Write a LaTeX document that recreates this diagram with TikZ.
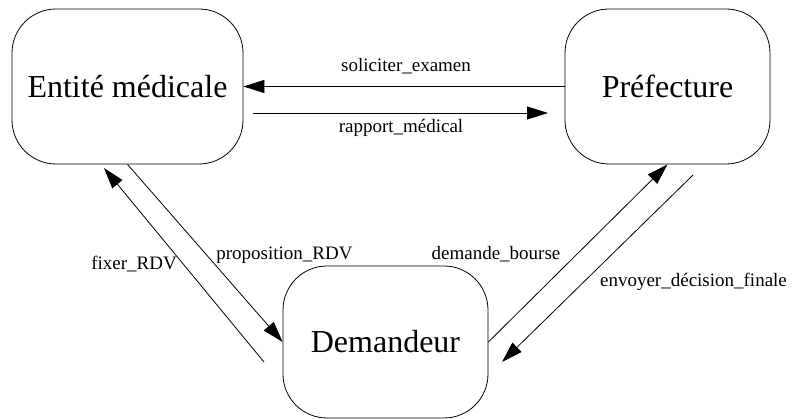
\documentclass[tikz,border=0pt]{standalone}
\usepackage{fontspec}
\setmainfont{Liberation Serif}
\usetikzlibrary{arrows.meta}
\begin{document}
\begin{tikzpicture}[x=1pt,y=-1pt,
  entity/.style={draw,line width=0.8pt,rounded corners=44pt,minimum width=231pt,minimum height=155pt,inner sep=0pt,font=\fontsize{32}{38}\selectfont},
  flow/.style={draw,line width=0.8pt,-{Triangle[length=21pt,width=13pt]}},
  lbl/.style={inner sep=0pt,anchor=base,font=\fontsize{19}{23}\selectfont}]
\useasboundingbox (0,0) rectangle (793,419);
\node[entity] (em) at (127.5,86.5) {Entité médicale};
\node[entity,minimum width=205pt] (pre) at (667.5,86.5) {Préfecture};
\node[entity,minimum width=205pt,minimum height=152pt] (dem) at (385.5,342) {Demandeur};
\coordinate (rs) at (253,113);
\coordinate (re) at (548,113);
\coordinate (fs) at (264,362);
\coordinate (fe) at (104,168);
\coordinate (es) at (693,175);
\coordinate (ee) at (502,362);
\draw[flow] (pre.west) -- (em.east);
\draw[flow] (rs) -- (re);
\draw[flow] (fs) -- (fe);
\draw[flow] (em.south) -- (dem.west);
\draw[flow] (dem.east) -- (pre.south);
\draw[flow] (es) -- (ee);
\node[lbl] (l1) at (406,72) {soliciter\_examen};
\node[lbl] (l2) at (401,133) {rapport\_médical};
\node[lbl] (l3) at (134,270) {fixer\_RDV};
\node[lbl] (l4) at (284.5,260) {proposition\_RDV};
\node[lbl] (l5) at (496,260) {demande\_bourse};
\node[lbl] (l6) at (693.5,287) {envoyer\_décision\_finale};
\end{tikzpicture}
\end{document}
